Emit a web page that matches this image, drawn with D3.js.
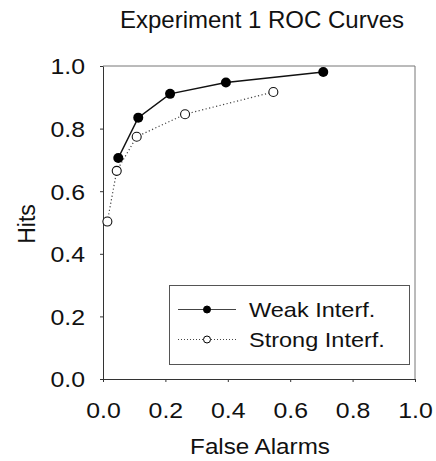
<!DOCTYPE html>
<html><head><meta charset="utf-8">
<script src="https://cdn.jsdelivr.net/npm/d3@7/dist/d3.min.js"></script>
<style>
html,body{margin:0;padding:0;background:#fff;}
text{font-family:"Liberation Sans",Arial,Helvetica,sans-serif;fill:#111;}
</style></head>
<body><svg id="c" width="436" height="461"></svg>
<script>
const weakFA   = [0.049, 0.113, 0.215, 0.394, 0.706];
const weakHits = [0.706, 0.835, 0.911, 0.947, 0.981];
const strongFA   = [0.014, 0.044, 0.108, 0.263, 0.546];
const strongHits = [0.503, 0.665, 0.774, 0.846, 0.917];
const tickValues = [0, 0.2, 0.4, 0.6, 0.8, 1.0];
const seriesNames = ["Weak Interf.", "Strong Interf."];

const svg = d3.select("#c");
const x = d3.scaleLinear().domain([0,1]).range([103,415]);
const y = d3.scaleLinear().domain([0,1]).range([379,66]);

// stretch text horizontally about its anchor x
function stretch(sel, k){
  sel.each(function(){
    const t = d3.select(this);
    const ax = +t.attr("x") || 0;
    const prev = t.attr("transform") || "";
    t.attr("transform", `${prev} translate(${ax},0) scale(${k},1) translate(${-ax},0)`);
  });
}

// frame top/right
svg.append("line").attr("x1",x(0)).attr("x2",x(1)).attr("y1",y(1)).attr("y2",y(1)).attr("stroke","#777").attr("stroke-width",1);
svg.append("line").attr("x1",x(1)).attr("x2",x(1)).attr("y1",y(1)).attr("y2",y(0)).attr("stroke","#777").attr("stroke-width",1);

const xAxis = svg.append("g").attr("transform",`translate(0,${y(0)})`)
  .call(d3.axisBottom(x).tickValues(tickValues).tickFormat(d3.format(".1f")).tickSize(3).tickSizeOuter(0));
const yAxis = svg.append("g").attr("transform",`translate(${x(0)},0)`)
  .call(d3.axisLeft(y).tickValues(tickValues).tickFormat(d3.format(".1f")).tickSize(3).tickSizeOuter(0));
[xAxis,yAxis].forEach(a=>{
  a.selectAll("path.domain").attr("stroke","#333");
  a.selectAll(".tick line").attr("stroke","#333");
  a.selectAll("text").style("font-size","22px").attr("fill","#111");
});
xAxis.selectAll("text").attr("dy","0").attr("y",39).attr("x",0);
yAxis.selectAll("text").attr("x",-18).attr("dy","0.36em");
stretch(xAxis.selectAll("text"),1.13);
stretch(yAxis.selectAll("text"),1.13);

svg.append("text").attr("x",262).attr("y",28).attr("text-anchor","middle").style("font-size","24px").text("Experiment 1 ROC Curves");
const xt = svg.append("text").attr("x",260).attr("y",454).attr("text-anchor","middle").style("font-size","22px").text("False Alarms");
stretch(xt,1.1);
svg.append("text").attr("transform","translate(35,224) rotate(-90)").attr("text-anchor","middle").style("font-size","23px").text("Hits");

const weak = weakFA.map((d,i)=>[d,weakHits[i]]);
const strong = strongFA.map((d,i)=>[d,strongHits[i]]);
const line = d3.line().x(d=>x(d[0])).y(d=>y(d[1]));

svg.append("path").attr("d",line(strong)).attr("fill","none").attr("stroke","#444").attr("stroke-width",1.2).attr("stroke-dasharray","1.2,2.4");
svg.append("path").attr("d",line(weak)).attr("fill","none").attr("stroke","#111").attr("stroke-width",1.5);
svg.selectAll("circle.s").data(strong).enter().append("circle").attr("class","s")
  .attr("cx",d=>x(d[0])).attr("cy",d=>y(d[1])).attr("r",4.5).attr("fill","#fff").attr("stroke","#111").attr("stroke-width",1.1);
svg.selectAll("circle.w").data(weak).enter().append("circle").attr("class","w")
  .attr("cx",d=>x(d[0])).attr("cy",d=>y(d[1])).attr("r",5).attr("fill","#000");

// legend
const lg = svg.append("g");
lg.append("rect").attr("x",169.5).attr("y",285.5).attr("width",240).attr("height",79).attr("fill","#fff").attr("stroke","#555").attr("stroke-width",1);
const rows = [{name:seriesNames[0],y:309.5,dash:null,fill:"#000"},{name:seriesNames[1],y:339.5,dash:"1,2",fill:"#fff"}];
rows.forEach(r=>{
  lg.append("line").attr("x1",178).attr("x2",236).attr("y1",r.y).attr("y2",r.y).attr("stroke","#444").attr("stroke-width",1).attr("stroke-dasharray",r.dash);
  lg.append("circle").attr("cx",207).attr("cy",r.y).attr("r",3.5).attr("fill",r.fill).attr("stroke","#000").attr("stroke-width",1);
  const t = lg.append("text").attr("x",249).attr("y",r.y+7.5).style("font-size","21px").text(r.name);
  stretch(t,1.12);
});
</script></body></html>
